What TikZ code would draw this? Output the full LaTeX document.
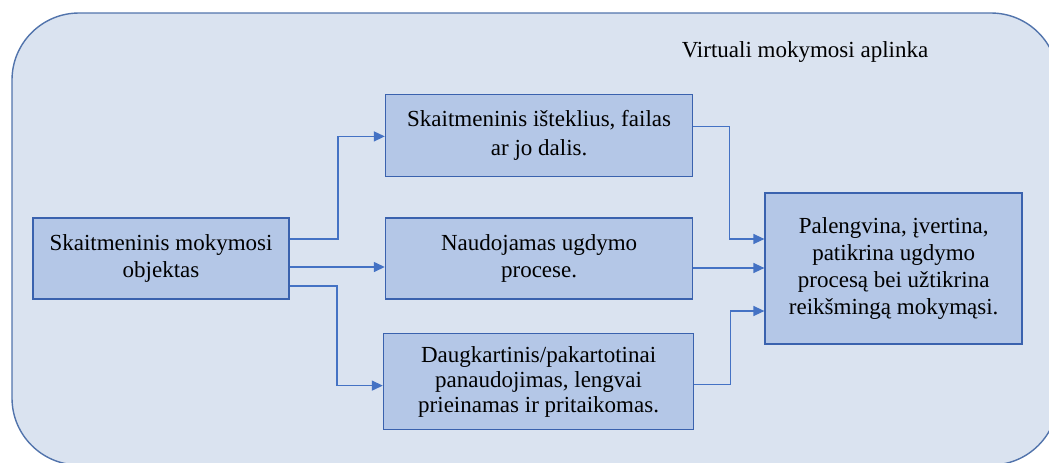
\documentclass[tikz,border=0pt]{standalone}
\usepackage{fontspec}
\setmainfont{Liberation Serif}
\usetikzlibrary{arrows.meta,positioning}
\definecolor{envfill}{HTML}{DAE3F0}
\definecolor{envline}{HTML}{5274AC}
\definecolor{boxfill}{HTML}{B4C7E7}
\definecolor{boxline}{HTML}{3A62AE}
\definecolor{link}{HTML}{4472C4}

\begin{document}
\begin{tikzpicture}[font=\fontsize{11.5}{13.5}\selectfont, >={Triangle[length=5.5pt,width=5pt]},
    box/.style={draw=boxline, line width=0.8pt, fill=boxfill, align=center, inner sep=0pt},
    wire/.style={->, draw=link, line width=0.7pt, color=link}]
  \useasboundingbox (0,0) rectangle (524.5pt,-231pt);
  \clip (0,0) rectangle (524.5pt,-231pt);
  \draw[envline, fill=envfill, line width=0.7pt, rounded corners=33.5pt] (6pt,-6.5pt) rectangle (529pt,-232.5pt);
  \node (env) at (402.5pt,-26pt) {Virtuali mokymosi aplinka};
  \node[box, minimum width=128pt, minimum height=40.5pt] (obj) at (80.5pt,-129.25pt) {Skaitmeninis mokymosi\\objektas};
  \node[box, minimum width=153.5pt, minimum height=40.5pt, right=47.5pt of obj] (use) {Naudojamas ugdymo\\procese.};
  \node[box, minimum width=153.5pt, minimum height=41pt, above=20pt of use] (res) {Skaitmeninis išteklius, failas\\[1pt]ar jo dalis.};
  \node[box, minimum width=155pt, minimum height=48pt, below=16.5pt of use, xshift=-0.25pt] (reuse) {Daugkartinis/pakartotinai\\[-1pt]panaudojimas, lengvai\\[-1pt]prieinamas ir pritaikomas.};
  \node[box, minimum width=128.5pt, minimum height=75.5pt, right=35.5pt of use, yshift=-5pt] (goal) {Palengvina, įvertina,\\patikrina ugdymo\\procesą bei užtikrina\\reikšmingą mokymąsi.};
  % from the object
  \draw[wire] ([yshift=9.75pt]obj.east) -- ++(24pt,0) |- ([yshift=-0.5pt]res.west);
  \draw[wire] ([yshift=-4.25pt]obj.east) -- ([yshift=-4.25pt]use.west);
  \draw[wire] ([yshift=-13.75pt]obj.east) -- ++(23.5pt,0) |- ([yshift=-2pt]reuse.west);
  % into the result
  \draw[wire] ([yshift=4.5pt]res.east) -- ++(18pt,0) |- ([yshift=14.75pt]goal.west);
  \draw[wire] ([yshift=-4.75pt]use.east) -- ([yshift=0.25pt]goal.west);
  \draw[wire] ([yshift=-1.5pt]reuse.east) -- ++(18pt,0) |- ([yshift=-21.25pt]goal.west);
\end{tikzpicture}
\end{document}
